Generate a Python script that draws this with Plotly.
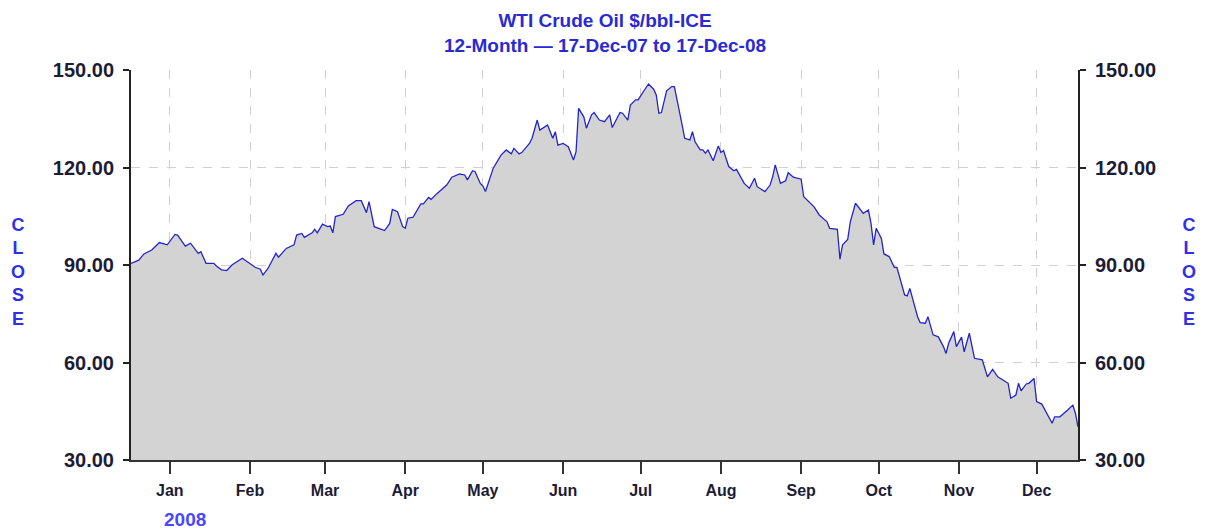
import plotly.graph_objects as go

dates = [
    "2007-12-17", "2007-12-20", "2007-12-22", "2007-12-25", "2007-12-28", "2007-12-31",
    "2008-01-03", "2008-01-04", "2008-01-07", "2008-01-09", "2008-01-12", "2008-01-13",
    "2008-01-15", "2008-01-18", "2008-01-19", "2008-01-21", "2008-01-23", "2008-01-25",
    "2008-01-29", "2008-01-31", "2008-02-03", "2008-02-05", "2008-02-06", "2008-02-08",
    "2008-02-11", "2008-02-12", "2008-02-15", "2008-02-18", "2008-02-19", "2008-02-21",
    "2008-02-22", "2008-02-25", "2008-02-26", "2008-02-27", "2008-02-29", "2008-03-02",
    "2008-03-03", "2008-03-04", "2008-03-05", "2008-03-08", "2008-03-10", "2008-03-13",
    "2008-03-15", "2008-03-17", "2008-03-18", "2008-03-20", "2008-03-24", "2008-03-26",
    "2008-03-27", "2008-03-29", "2008-03-31", "2008-04-01", "2008-04-02", "2008-04-04",
    "2008-04-07", "2008-04-08", "2008-04-10", "2008-04-11", "2008-04-13", "2008-04-17",
    "2008-04-19", "2008-04-22", "2008-04-24", "2008-04-25", "2008-04-27", "2008-04-28",
    "2008-04-30", "2008-05-01", "2008-05-02", "2008-05-05", "2008-05-08", "2008-05-10",
    "2008-05-12", "2008-05-13", "2008-05-15", "2008-05-16", "2008-05-19", "2008-05-20",
    "2008-05-22", "2008-05-23", "2008-05-26", "2008-05-28", "2008-05-29", "2008-05-30",
    "2008-06-01", "2008-06-03", "2008-06-05", "2008-06-06", "2008-06-07", "2008-06-09",
    "2008-06-10", "2008-06-12", "2008-06-13", "2008-06-15", "2008-06-17", "2008-06-19",
    "2008-06-20", "2008-06-23", "2008-06-24", "2008-06-26", "2008-06-27", "2008-06-29",
    "2008-06-30", "2008-07-02", "2008-07-04", "2008-07-06", "2008-07-07", "2008-07-08",
    "2008-07-09", "2008-07-11", "2008-07-13", "2008-07-14", "2008-07-16", "2008-07-17",
    "2008-07-18", "2008-07-20", "2008-07-21", "2008-07-22", "2008-07-24", "2008-07-25",
    "2008-07-26", "2008-07-27", "2008-07-29", "2008-07-31", "2008-08-01", "2008-08-02",
    "2008-08-04", "2008-08-06", "2008-08-07", "2008-08-10", "2008-08-12", "2008-08-14",
    "2008-08-15", "2008-08-18", "2008-08-20", "2008-08-21", "2008-08-22", "2008-08-24",
    "2008-08-26", "2008-08-27", "2008-08-29", "2008-09-01", "2008-09-02", "2008-09-04",
    "2008-09-06", "2008-09-08", "2008-09-11", "2008-09-12", "2008-09-15", "2008-09-16",
    "2008-09-17", "2008-09-19", "2008-09-20", "2008-09-22", "2008-09-25", "2008-09-27",
    "2008-09-28", "2008-09-29", "2008-09-30", "2008-10-02", "2008-10-03", "2008-10-05",
    "2008-10-07", "2008-10-08", "2008-10-10", "2008-10-11", "2008-10-12", "2008-10-13",
    "2008-10-16", "2008-10-17", "2008-10-19", "2008-10-20", "2008-10-22", "2008-10-24",
    "2008-10-26", "2008-10-27", "2008-10-28", "2008-10-30", "2008-10-31", "2008-11-02",
    "2008-11-03", "2008-11-05", "2008-11-07", "2008-11-10", "2008-11-12", "2008-11-14",
    "2008-11-16", "2008-11-20", "2008-11-21", "2008-11-23", "2008-11-24", "2008-11-25",
    "2008-11-27", "2008-11-28", "2008-11-30", "2008-12-01", "2008-12-03", "2008-12-05",
    "2008-12-07", "2008-12-08", "2008-12-10", "2008-12-13", "2008-12-15", "2008-12-16",
    "2008-12-17",
]

close = [
    90.5, 91.5, 93.4, 94.6, 96.9, 96.2,
    99.4, 99.2, 95.8, 96.7, 93.6, 94.1,
    90.5, 90.5, 89.7, 88.5, 88.3, 90.0,
    92.1, 91.0, 89.3, 88.7, 86.9, 89.0,
    93.6, 92.4, 95.1, 96.2, 99.2, 99.7,
    98.5, 99.9, 101.0, 99.9, 102.6, 101.8,
    102.0, 99.9, 104.9, 105.6, 108.2, 109.8,
    109.8, 106.1, 109.5, 101.8, 100.6, 102.8,
    107.1, 106.4, 101.8, 101.3, 104.4, 104.7,
    108.8, 108.8, 110.8, 110.2, 111.8, 114.6,
    117.0, 118.0, 117.7, 116.2, 119.0, 118.7,
    115.1, 114.3, 112.6, 119.8, 123.8, 125.4,
    124.2, 125.9, 124.2, 124.6, 127.4, 129.0,
    134.6, 131.5, 133.1, 129.0, 131.0, 126.9,
    127.4, 126.4, 122.3, 124.9, 138.2, 135.6,
    132.1, 136.2, 136.9, 134.6, 134.1, 136.2,
    132.3, 136.9, 136.7, 134.6, 139.2, 140.8,
    140.8, 143.3, 145.7, 144.1, 142.3, 136.7,
    136.9, 143.6, 144.9, 144.9, 137.7, 133.1,
    129.0, 128.5, 131.0, 127.9, 125.4, 125.4,
    124.4, 125.4, 122.1, 126.6, 124.6, 125.2,
    120.3, 119.0, 119.4, 115.1, 113.6, 116.7,
    114.1, 112.6, 114.6, 117.2, 120.8, 115.1,
    115.9, 118.4, 117.0, 116.4, 111.0, 109.5,
    107.9, 105.4, 103.3, 101.3, 101.0, 91.8,
    96.2, 97.9, 103.3, 109.0, 105.9, 106.9,
    102.8, 96.2, 101.3, 98.2, 93.4, 92.6,
    89.3, 89.3, 83.8, 80.8, 80.5, 82.8,
    74.1, 72.3, 72.1, 74.1, 68.5, 67.9,
    64.9, 62.8, 65.9, 69.5, 64.9, 67.8,
    63.3, 69.0, 61.3, 60.8, 55.6, 57.9,
    55.6, 53.6, 49.0, 50.0, 53.6, 51.3,
    53.4, 53.6, 55.1, 48.0, 47.2, 44.4,
    41.3, 43.3, 43.3, 45.4, 46.9, 44.4,
    40.2,
]

y_ticks = [30, 60, 90, 120, 150]
y_labels = ["30.00", "60.00", "90.00", "120.00", "150.00"]
title_lines = ["WTI Crude Oil $/bbl-ICE", "12-Month \u2014 17-Dec-07 to 17-Dec-08"]
axis_title = "CLOSE"
year_label = "2008"

FONT = "Liberation Sans, Arial, sans-serif"
TICK_COLOR = "#1c1c36"
BLUE = "#2a2ad2"

fig = go.Figure()
fig.add_trace(go.Scatter(
    x=dates, y=close, mode="lines",
    line=dict(color="#2424cc", width=1.3),
    fill="tozeroy", fillcolor="#d3d3d3",
    hoverinfo="skip", showlegend=False,
))
fig.add_trace(go.Scatter(
    x=dates, y=close, mode="lines", yaxis="y2",
    line=dict(color="rgba(0,0,0,0)", width=0),
    hoverinfo="skip", showlegend=False,
))

grid = dict(showgrid=True, gridcolor="#d0d0d0", gridwidth=1.4, griddash="dash")

fig.update_layout(
    width=1205, height=529,
    margin=dict(l=131, r=127, t=70, b=69),
    paper_bgcolor="white", plot_bgcolor="white",
    font=dict(family=FONT),
    xaxis=dict(
        type="date",
        range=["2007-12-17", "2008-12-17"],
        dtick="M1", tick0="2008-01-01", tickformat="%b",
        ticks="outside", ticklen=12, tickwidth=2, tickcolor="#333333",
        showline=True, linecolor="#333333", linewidth=2,
        tickfont=dict(family=FONT, size=16, color=TICK_COLOR, weight="bold"),
        ticklabelstandoff=3,
        zeroline=False, **grid,
    ),
    yaxis=dict(
        range=[30, 150], tickvals=y_ticks, ticktext=y_labels,
        ticks="outside", ticklen=6, tickwidth=2, tickcolor="#222222",
        showline=True, linecolor="#222222", linewidth=2,
        tickfont=dict(family=FONT, size=20, color=TICK_COLOR, weight="bold"),
        ticklabelstandoff=5,
        zeroline=False, **grid,
    ),
    yaxis2=dict(
        range=[30, 150], tickvals=y_ticks, ticktext=y_labels,
        overlaying="y", side="right",
        ticks="outside", ticklen=6, tickwidth=2, tickcolor="#222222",
        showline=True, linecolor="#222222", linewidth=2,
        tickfont=dict(family=FONT, size=20, color=TICK_COLOR, weight="bold"),
        ticklabelstandoff=5,
        showgrid=False, zeroline=False,
    ),
)

fig.add_annotation(
    text="<br>".join(title_lines), xref="paper", yref="paper",
    x=0.5, y=(460 - 33) / 390, xanchor="center", yanchor="middle",
    showarrow=False, font=dict(family=FONT, size=19, color=BLUE, weight="bold"),
)
for xp in [(18 - 131) / 947, (1189 - 131) / 947]:
    fig.add_annotation(
        text="<br>".join(list(axis_title)), xref="paper", yref="paper",
        x=xp, y=(460 - 272) / 390, xanchor="center", yanchor="middle",
        showarrow=False, font=dict(family=FONT, size=18, color="#2f2fe6", weight="bold"),
    )
fig.add_annotation(
    text=year_label, xref="x", yref="paper",
    x="2008-01-07", y=(460 - 519) / 390, xanchor="center", yanchor="middle",
    showarrow=False, font=dict(family=FONT, size=19, color="#4848ff", weight="bold"),
)

fig.write_html(
    "out.html",
    config={"displayModeBar": False},
    post_script="document.body.style.margin='0px';",
)
